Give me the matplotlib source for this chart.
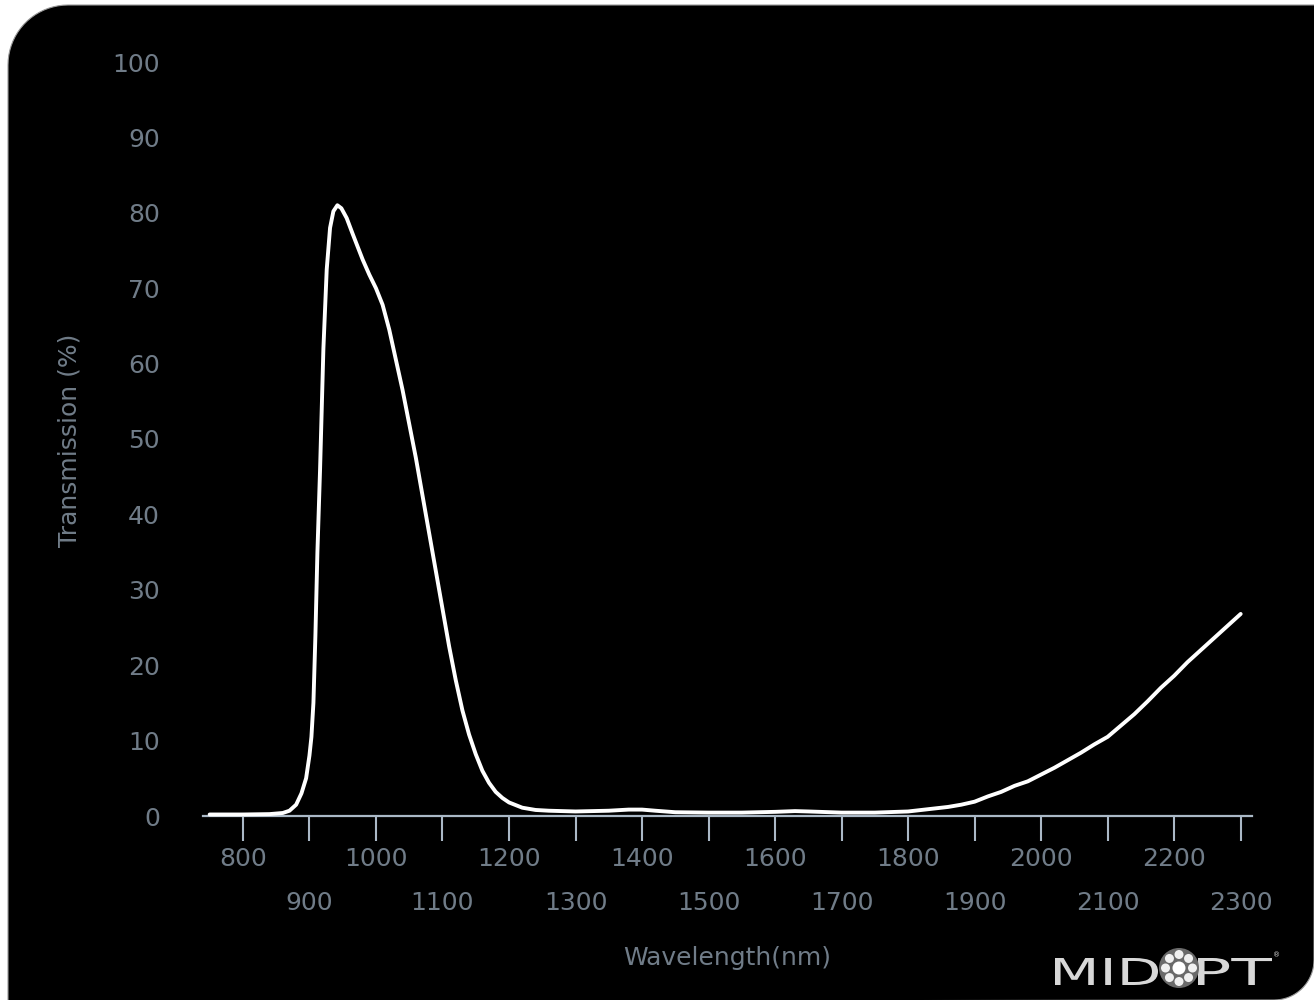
import numpy as np
import matplotlib
matplotlib.use("Agg")
import matplotlib.pyplot as plt
import matplotlib.transforms as mtransforms
from matplotlib.path import Path
from matplotlib.patches import PathPatch, Circle
from matplotlib.textpath import TextPath
from matplotlib.font_manager import FontProperties

# transmission curve
wavelength = [750, 800, 840, 860, 870, 880, 888, 895, 900, 903, 906, 909, 912, 916,
              921, 926, 931, 936, 942, 948, 956, 965, 980, 990, 1000, 1010, 1020, 1030,
              1040, 1050, 1060, 1070, 1080, 1090, 1100, 1110, 1120, 1130, 1140, 1150,
              1160, 1170, 1180, 1190, 1200, 1220, 1240, 1260, 1300, 1350, 1380, 1400,
              1420, 1450, 1500, 1550, 1600, 1630, 1650, 1700, 1750, 1800, 1830, 1860,
              1880, 1900, 1920, 1940, 1960, 1980, 2000, 2020, 2040, 2060, 2080, 2100,
              2120, 2140, 2160, 2180, 2200, 2220, 2240, 2260, 2280, 2300]
transmission = [0.2, 0.2, 0.25, 0.4, 0.7, 1.5, 3.0, 5.0, 8.0, 10.5, 15, 24, 35, 46,
                62, 72.5, 78, 80.2, 81, 80.6, 79.3, 77.2, 73.8, 71.8, 70.0, 67.8, 64.5, 60.5,
                56.5, 52, 47.5, 42.5, 37.5, 32.5, 27.5, 22.5, 18, 14, 10.8, 8.2,
                6.0, 4.4, 3.2, 2.4, 1.8, 1.1, 0.8, 0.7, 0.6, 0.7, 0.85, 0.85,
                0.7, 0.5, 0.45, 0.45, 0.55, 0.65, 0.6, 0.45, 0.45, 0.6, 0.9, 1.2,
                1.5, 1.9, 2.6, 3.2, 4.0, 4.6, 5.5, 6.4, 7.4, 8.4, 9.5, 10.5,
                12.0, 13.5, 15.2, 17.0, 18.6, 20.4, 22.0, 23.6, 25.2, 26.8]

top_row = [800, 1000, 1200, 1400, 1600, 1800, 2000, 2200]
bottom_row = [900, 1100, 1300, 1500, 1700, 1900, 2100, 2300]
y_ticks = [0, 10, 20, 30, 40, 50, 60, 70, 80, 90, 100]

W, H = 1314, 1000
txt_col = "#707c88"
axis_col = "#aab8c6"

fig = plt.figure(figsize=(W / 100, H / 100), dpi=100, facecolor="white")
# pixel coords (top-down) -> figure
to_fig = mtransforms.Affine2D().scale(1 / W, -1 / H).translate(0, 1) + fig.transFigure

# black panel with rounded top-left and bottom-right corners
r1, r2 = 60, 40
a1 = np.linspace(np.pi, 1.5 * np.pi, 20)
a2 = np.linspace(0, 0.5 * np.pi, 20)
verts = [(8 + r1, 5), (W + 2, 5)]
verts += [(W - r2 + r2 * np.cos(t), H - r2 + r2 * np.sin(t)) for t in a2]
verts += [(8, H + 2)]
verts += [(8 + r1 + r1 * np.cos(t), 5 + r1 + r1 * np.sin(t)) for t in a1]
verts.append(verts[0])
codes = [Path.MOVETO] + [Path.LINETO] * (len(verts) - 2) + [Path.CLOSEPOLY]
fig.add_artist(PathPatch(Path(verts, codes), facecolor="black", edgecolor="#9a9a9a",
                         lw=0.8, transform=to_fig, zorder=-10))

ax = fig.add_axes([203 / W, 184 / H, 1049 / W, 754 / H])
ax.patch.set_visible(False)
ax.plot(wavelength, transmission, color="white", lw=2.8, clip_on=False,
        solid_capstyle="round", solid_joinstyle="round", zorder=3)
ax.set_xlim(740, 2317)
ax.set_ylim(0, 100)

for s in ["left", "top", "right"]:
    ax.spines[s].set_visible(False)
ax.spines["bottom"].set_color(axis_col)
ax.spines["bottom"].set_linewidth(1.6)

ax.set_xticks(top_row, [str(v) for v in top_row])
ax.set_xticks(bottom_row, [str(v) for v in bottom_row], minor=True)
ax.tick_params(axis="x", which="both", direction="out", length=18, width=1.5,
               color=axis_col, labelcolor=txt_col, labelsize=18)
ax.tick_params(axis="x", which="major", pad=4)
ax.tick_params(axis="x", which="minor", pad=36)
ax.set_yticks(y_ticks, [str(v) for v in y_ticks])
ax.tick_params(axis="y", length=0, pad=31, labelcolor=txt_col, labelsize=18)

fig.text(70 / W, 1 - 440 / H, "Transmission (%)", rotation=90, ha="center", va="center",
         color=txt_col, fontsize=18)
fig.text(727 / W, 1 - 958 / H, "Wavelength(nm)", ha="center", va="center",
         color=txt_col, fontsize=18)


# logo
def logo_text(s, x0, x1, base, cap):
    fp = FontProperties(family="DejaVu Sans")
    tp = TextPath((0, 0), s, size=40, prop=fp)
    ext = tp.get_extents()
    sx = (x1 - x0) / ext.width
    sy = cap / ext.height
    tr = mtransforms.Affine2D().translate(-ext.x0, 0).scale(sx, -sy).translate(x0, base) + to_fig
    fig.add_artist(PathPatch(tp, facecolor="#d8d8d8", edgecolor="none", transform=tr))


logo_text("MID", 1055, 1158, 985, 27)
logo_text("PT", 1198, 1272, 985, 27)
fig.text(1277 / W, 1 - 955 / H, "®", color="#d8d8d8", fontsize=5, ha="center", va="center")
cx, cy = 1179, 968
fig.add_artist(Circle((cx, cy), 20, facecolor="#6a6a6a", edgecolor="none", transform=to_fig))
fig.add_artist(Circle((cx, cy), 6.5, facecolor="white", edgecolor="none", transform=to_fig))
for k in range(8):
    t = k * np.pi / 4
    fig.add_artist(Circle((cx + 13.5 * np.cos(t), cy + 13.5 * np.sin(t)), 4.5,
                          facecolor="#f0f0f0", edgecolor="none", transform=to_fig))

fig.savefig("out.png", dpi=100, facecolor="white")
